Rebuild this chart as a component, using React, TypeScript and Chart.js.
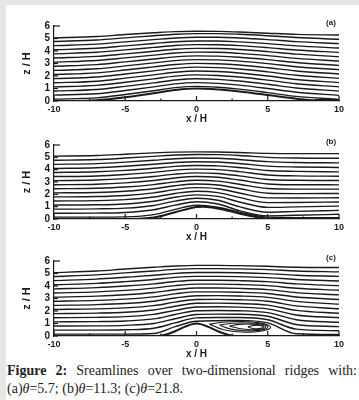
import React, { useEffect, useRef } from 'react';
import { Chart, registerables } from 'chart.js';
Chart.register(...registerables);

// ---------- data ----------
const XG = [-10, -7, -5, -3, -1.5, 0, 1.5, 3, 5, 7, 10];
const X_TICKS = [-10, -5, 0, 5, 10];
const X_MINOR = [-7.5, -2.5, 2.5, 7.5];
const Z_TICKS = [0, 1, 2, 3, 4, 5, 6];
const PANEL_LABELS = ['(a)', '(b)', '(c)'];

// panel (a) theta = 5.7
const HILL_A_X = [-10, -8.5, -7, -5, -3, -1.5, 0, 1.5, 3, 5, 7, 8.5, 10];
const HILL_A_Z = [0, 0, 0.06, 0.3, 0.62, 0.88, 1.0, 0.92, 0.76, 0.48, 0.18, 0.03, 0];
const LINES_A = [
  [0.15, 0.25, 0.52, 0.82, 1.07, 1.17, 1.1, 0.95, 0.67, 0.37, 0.12],
  [0.47, 0.58, 0.84, 1.13, 1.37, 1.47, 1.41, 1.27, 1.0, 0.7, 0.45],
  [0.8, 0.92, 1.17, 1.45, 1.68, 1.78, 1.73, 1.6, 1.34, 1.04, 0.79],
  [1.13, 1.25, 1.5, 1.77, 1.99, 2.09, 2.04, 1.92, 1.67, 1.38, 1.13],
  [1.46, 1.58, 1.83, 2.09, 2.3, 2.4, 2.36, 2.24, 2.0, 1.72, 1.47],
  [1.79, 1.92, 2.16, 2.41, 2.61, 2.71, 2.67, 2.56, 2.33, 2.06, 1.81],
  [2.12, 2.25, 2.48, 2.73, 2.92, 3.01, 2.98, 2.88, 2.66, 2.4, 2.16],
  [2.45, 2.58, 2.81, 3.05, 3.23, 3.31, 3.29, 3.19, 2.99, 2.74, 2.51],
  [2.78, 2.91, 3.13, 3.36, 3.53, 3.61, 3.59, 3.5, 3.31, 3.08, 2.85],
  [3.11, 3.24, 3.45, 3.67, 3.84, 3.91, 3.9, 3.81, 3.63, 3.41, 3.2],
  [3.44, 3.57, 3.77, 3.98, 4.14, 4.21, 4.2, 4.12, 3.95, 3.75, 3.55],
  [3.77, 3.9, 4.09, 4.29, 4.44, 4.51, 4.5, 4.43, 4.27, 4.08, 3.89],
  [4.1, 4.22, 4.41, 4.6, 4.74, 4.8, 4.8, 4.73, 4.59, 4.41, 4.24],
  [4.43, 4.55, 4.73, 4.91, 5.04, 5.1, 5.1, 5.04, 4.91, 4.75, 4.59],
  [4.76, 4.88, 5.05, 5.22, 5.34, 5.39, 5.39, 5.34, 5.22, 5.08, 4.94],
  [5.05, 5.16, 5.32, 5.46, 5.55, 5.58, 5.57, 5.52, 5.42, 5.33, 5.28],
];

// panel (b) theta = 11.3
const HILL_B_X = [-10, -4.5, -3, -1.5, 0, 0.5, 1.5, 3, 4.5, 5.5, 10];
const HILL_B_Z = [0, 0, 0.12, 0.55, 0.97, 1.0, 0.85, 0.45, 0.1, 0, 0];
const LINES_B = [
  [0.15, 0.15, 0.17, 0.35, 0.78, 1.12, 0.95, 0.55, 0.15, 0.1, 0.1],
  [0.47, 0.48, 0.53, 0.75, 1.12, 1.4, 1.22, 0.68, 0.25, 0.3, 0.38],
  [0.8, 0.82, 0.88, 1.1, 1.45, 1.68, 1.52, 1.0, 0.55, 0.62, 0.7],
  [1.13, 1.15, 1.22, 1.44, 1.76, 1.96, 1.83, 1.38, 0.94, 0.98, 1.04],
  [1.46, 1.49, 1.57, 1.78, 2.07, 2.25, 2.14, 1.75, 1.33, 1.34, 1.38],
  [1.79, 1.82, 1.91, 2.12, 2.38, 2.54, 2.45, 2.11, 1.71, 1.7, 1.72],
  [2.12, 2.15, 2.25, 2.45, 2.7, 2.84, 2.76, 2.47, 2.09, 2.06, 2.07],
  [2.45, 2.49, 2.59, 2.79, 3.01, 3.14, 3.07, 2.82, 2.47, 2.42, 2.42],
  [2.78, 2.82, 2.93, 3.12, 3.33, 3.44, 3.38, 3.16, 2.84, 2.78, 2.77],
  [3.11, 3.16, 3.27, 3.45, 3.64, 3.74, 3.69, 3.5, 3.2, 3.14, 3.12],
  [3.44, 3.49, 3.61, 3.78, 3.96, 4.04, 4.0, 3.84, 3.57, 3.5, 3.47],
  [3.77, 3.83, 3.94, 4.11, 4.27, 4.34, 4.31, 4.17, 3.93, 3.86, 3.82],
  [4.1, 4.16, 4.28, 4.44, 4.58, 4.64, 4.62, 4.5, 4.29, 4.22, 4.18],
  [4.43, 4.49, 4.61, 4.76, 4.89, 4.94, 4.92, 4.83, 4.65, 4.58, 4.55],
  [4.76, 4.82, 4.94, 5.08, 5.19, 5.23, 5.22, 5.15, 5.0, 4.94, 4.92],
  [5.1, 5.15, 5.25, 5.36, 5.42, 5.44, 5.43, 5.39, 5.32, 5.3, 5.3],
];

// panel (c) theta = 21.8
const HILL_C_X = [-10, -2.8, -2.2, -1.5, -0.8, 0, 0.8, 1.5, 2.2, 2.8, 10];
const HILL_C_Z = [0, 0, 0.1, 0.38, 0.75, 1.0, 0.75, 0.38, 0.1, 0, 0];
const LINES_C = [
  [0.15, 0.15, 0.15, 0.2, 0.75, 1.18, 1.22, 1.25, 1.05, 0.18, 0.12],
  [0.47, 0.47, 0.5, 0.62, 1.05, 1.45, 1.48, 1.48, 1.3, 0.55, 0.42],
  [0.8, 0.81, 0.85, 1.0, 1.38, 1.72, 1.75, 1.74, 1.58, 0.92, 0.75],
  [1.13, 1.15, 1.2, 1.37, 1.72, 2.02, 2.04, 2.02, 1.87, 1.3, 1.1],
  [1.46, 1.49, 1.55, 1.73, 2.05, 2.32, 2.34, 2.31, 2.17, 1.68, 1.46],
  [1.79, 1.83, 1.9, 2.08, 2.38, 2.62, 2.63, 2.6, 2.47, 2.05, 1.82],
  [2.12, 2.17, 2.25, 2.43, 2.71, 2.92, 2.93, 2.9, 2.78, 2.41, 2.18],
  [2.45, 2.51, 2.6, 2.78, 3.04, 3.22, 3.23, 3.2, 3.09, 2.77, 2.55],
  [2.78, 2.85, 2.95, 3.13, 3.37, 3.53, 3.53, 3.5, 3.4, 3.12, 2.92],
  [3.11, 3.19, 3.3, 3.48, 3.7, 3.84, 3.84, 3.81, 3.71, 3.47, 3.29],
  [3.44, 3.53, 3.65, 3.83, 4.03, 4.15, 4.15, 4.12, 4.03, 3.82, 3.66],
  [3.77, 3.87, 4.0, 4.17, 4.36, 4.46, 4.46, 4.43, 4.35, 4.17, 4.03],
  [4.1, 4.21, 4.35, 4.52, 4.69, 4.77, 4.77, 4.75, 4.67, 4.52, 4.4],
  [4.43, 4.55, 4.7, 4.86, 5.01, 5.08, 5.08, 5.06, 4.99, 4.86, 4.77],
  [4.76, 4.89, 5.05, 5.2, 5.33, 5.39, 5.39, 5.37, 5.31, 5.2, 5.13],
  [5.07, 5.2, 5.36, 5.5, 5.6, 5.65, 5.65, 5.63, 5.58, 5.5, 5.48],
];
// recirculation bubble (closed streamlines) behind ridge (c)
const LOOPS_C_X = [
  [0.9, 2.0, 3.2, 4.4, 5.2, 4.5, 3.2, 1.9, 0.9],
  [1.6, 2.5, 3.5, 4.5, 5.0, 4.5, 3.5, 2.4, 1.6],
  [2.3, 3.0, 3.8, 4.5, 4.85, 4.5, 3.8, 3.0, 2.3],
  [3.6, 4.0, 4.4, 4.7, 4.4, 4.0, 3.6],
];
const LOOPS_C_Z = [
  [0.95, 1.12, 1.15, 1.05, 0.72, 0.38, 0.32, 0.5, 0.95],
  [0.88, 1.02, 1.04, 0.96, 0.72, 0.47, 0.42, 0.55, 0.88],
  [0.8, 0.93, 0.95, 0.88, 0.72, 0.55, 0.5, 0.6, 0.8],
  [0.72, 0.84, 0.84, 0.72, 0.6, 0.6, 0.72],
];

// ---------- styling ----------
const INK = '#1a1a1a';
const SANS = '"Liberation Sans", Arial, sans-serif';

type PanelProps = {
  lines: number[][];
  hillX: number[];
  hillZ: number[];
  loopsX?: number[][];
  loopsZ?: number[][];
  label: string;
  top: number;
  height: number;
  padTop: number;
};

function Panel({ lines, hillX, hillZ, loopsX = [], loopsZ = [], label, top, height, padTop }: PanelProps) {
  const ref = useRef<HTMLCanvasElement | null>(null);
  useEffect(() => {
    if (!ref.current) return;
    const datasets: any[] = [];
    lines.forEach((l) => {
      datasets.push({
        data: XG.map((x, i) => ({ x, y: l[i] })),
        borderColor: INK,
        borderWidth: 1.4,
        pointRadius: 0,
        cubicInterpolationMode: 'monotone',
        fill: false,
      });
    });
    datasets.push({
      data: hillX.map((x, i) => ({ x, y: hillZ[i] })),
      borderColor: INK,
      borderWidth: 2,
      pointRadius: 0,
      cubicInterpolationMode: 'monotone',
      fill: false,
    });
    loopsX.forEach((lx, k) => {
      datasets.push({
        data: lx.map((x, i) => ({ x, y: loopsZ[k][i] })),
        borderColor: INK,
        borderWidth: 1.1,
        pointRadius: 0,
        tension: 0.45,
        fill: false,
      });
    });
    const endZ = lines[0][lines[0].length - 1];
    datasets.push({
      data: [{ x: 8.3, y: endZ }, { x: 10, y: endZ }, { x: 10, y: 0 }],
      borderColor: INK,
      borderWidth: 1.2,
      pointRadius: 0,
      fill: false,
    });

    const decor = {
      id: 'decor',
      afterDraw(chart: any) {
        const { ctx, chartArea: a, scales } = chart;
        const xs = scales.x;
        const ys = scales.y;
        ctx.save();
        ctx.strokeStyle = INK;
        ctx.lineWidth = 1.2;
        Z_TICKS.forEach((v) => {
          const py = ys.getPixelForValue(v);
          ctx.beginPath();
          ctx.moveTo(a.left, py);
          ctx.lineTo(a.left + (v === 6 ? 6 : 4), py);
          ctx.stroke();
        });
        X_TICKS.forEach((v) => {
          const px = xs.getPixelForValue(v);
          ctx.beginPath();
          ctx.moveTo(px, a.bottom);
          ctx.lineTo(px, a.bottom - 5);
          ctx.stroke();
        });
        X_MINOR.forEach((v) => {
          const px = xs.getPixelForValue(v);
          ctx.beginPath();
          ctx.moveTo(px, a.bottom);
          ctx.lineTo(px, a.bottom - 2.5);
          ctx.stroke();
        });
        ctx.fillStyle = INK;
        ctx.textAlign = 'center';
        ctx.textBaseline = 'middle';
        ctx.font = `bold 10px ${SANS}`;
        ctx.fillText('x / H', (a.left + a.right) / 2, a.bottom + 18);
        ctx.save();
        ctx.translate(27, (a.top + a.bottom) / 2);
        ctx.rotate(-Math.PI / 2);
        ctx.font = `bold 11px ${SANS}`;
        ctx.fillText('z / H', 0, 0);
        ctx.restore();
        ctx.font = `bold 8px ${SANS}`;
        ctx.fillText(label, 331, a.top - 3);
        ctx.restore();
      },
    };

    const chart = new Chart(ref.current, {
      type: 'line',
      data: { datasets },
      plugins: [decor],
      options: {
        responsive: false,
        maintainAspectRatio: false,
        animation: false,
        events: [],
        layout: { padding: { top: padTop, right: 20, bottom: 0, left: 0 } },
        plugins: { legend: { display: false }, tooltip: { enabled: false } },
        scales: {
          x: {
            type: 'linear',
            min: -10,
            max: 10,
            grid: { display: false, drawTicks: false },
            border: { display: true, color: INK, width: 1.2 },
            ticks: {
              autoSkip: false,
              maxRotation: 0,
              padding: 3,
              color: INK,
              font: { family: SANS, size: 9, weight: 'bold' },
              callback: (v: any) => String(v),
            },
            afterBuildTicks: (s: any) => {
              s.ticks = X_TICKS.map((v) => ({ value: v }));
            },
            afterFit: (s: any) => {
              s.height = 26;
            },
          },
          y: {
            type: 'linear',
            min: 0,
            max: 6,
            grid: { display: false, drawTicks: false },
            border: { display: true, color: INK, width: 1.2 },
            ticks: {
              autoSkip: false,
              padding: 4,
              color: INK,
              font: { family: SANS, size: 10, weight: 'bold' },
              callback: (v: any) => String(v),
            },
            afterBuildTicks: (s: any) => {
              s.ticks = Z_TICKS.map((v) => ({ value: v }));
            },
            afterFit: (s: any) => {
              s.width = 54;
            },
          },
        },
      } as any,
    });
    return () => chart.destroy();
  }, []);
  return (
    <canvas
      ref={ref}
      width={359}
      height={height}
      style={{ position: 'absolute', left: 0, top, width: 359, height }}
    />
  );
}

export default function App() {
  return (
    <div style={{ position: 'fixed', left: 0, top: 0, width: 359, height: 400, background: '#e6e6e6', overflow: 'hidden' }}>
      <div style={{ position: 'absolute', left: 6, top: 5, right: 0, bottom: 0, background: '#ffffff' }} />
      <Panel lines={LINES_A} hillX={HILL_A_X} hillZ={HILL_A_Z} label={PANEL_LABELS[0]} top={12} height={115} padTop={14} />
      <Panel lines={LINES_B} hillX={HILL_B_X} hillZ={HILL_B_Z} label={PANEL_LABELS[1]} top={131} height={114} padTop={14} />
      <Panel
        lines={LINES_C}
        hillX={HILL_C_X}
        hillZ={HILL_C_Z}
        loopsX={LOOPS_C_X}
        loopsZ={LOOPS_C_Z}
        label={PANEL_LABELS[2]}
        top={247}
        height={115}
        padTop={14}
      />
      <div
        style={{
          position: 'absolute',
          left: 7,
          top: 362,
          width: 350,
          fontFamily: '"Liberation Serif", "Times New Roman", serif',
          fontSize: 14,
          lineHeight: '18px',
          color: '#222',
        }}
      >
        <div style={{ textAlign: 'justify', textAlignLast: 'justify', whiteSpace: 'nowrap' }}>
          <b>Figure 2:</b> Sreamlines over two-dimensional ridges with:
        </div>
        <div>
          (a)<i>θ</i>=5.7; (b)<i>θ</i>=11.3; (c)<i>θ</i>=21.8.
        </div>
      </div>
    </div>
  );
}
